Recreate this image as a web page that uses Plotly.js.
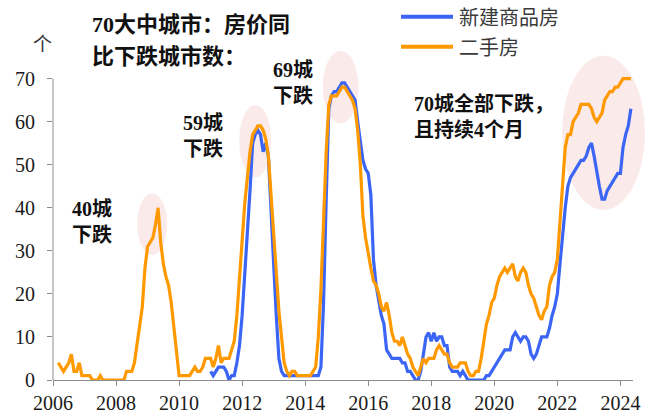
<!DOCTYPE html>
<html>
<head>
<meta charset="utf-8">
<script src="https://cdn.plot.ly/plotly-3.0.1.min.js"></script>
<style>
  html, body { margin: 0; padding: 0; background: #ffffff; }
  #chart { width: 659px; height: 420px; }
</style>
</head>
<body>
<div id="chart"></div>
<script>
// 70大中城市：房价同比下跌城市数（月度）
const seriesNames = ['新建商品房', '二手房'];

// 新建商品房：2011年1月起
const newHomeStart = [2011, 1];
const newHomeDown = [
  2, 1, 2, 3, 3, 3, 2, 0, 1, 1, 4, 8,            // 2011
  15, 24, 34, 44, 55, 57, 58, 57, 53, 55, 52, 41, // 2012
  27, 15, 5, 2, 1, 1, 1, 1, 1, 1, 1, 1,          // 2013
  1, 1, 1, 1, 1, 1, 3, 18, 42, 63, 66, 67,        // 2014
  67, 68, 69, 69, 68, 67, 66, 65, 60, 55, 51, 49, // 2015
  48, 43, 28, 22, 18, 15, 13, 7, 6, 5, 5, 5,      // 2016
  5, 4, 4, 2, 2, 1, 0, 0, 2, 6, 10, 11,           // 2017
  9, 11, 9, 10, 10, 8, 8, 3, 2, 2, 2, 1,          // 2018
  2, 1, 0, 0, 0, 0, 0, 0, 0, 1, 1, 2,             // 2019
  3, 4, 5, 6, 7, 7, 7, 10, 11, 10, 9, 10,         // 2020
  10, 9, 6, 5, 6, 8, 10, 10, 10, 12, 15, 17,      // 2021
  20, 27, 34, 40, 45, 47, 48, 49, 50, 51, 51, 52, // 2022
  54, 55, 52, 48, 45, 42, 42, 44, 45, 46, 47, 48, // 2023
  48, 54, 57, 59, 63                              // 2024
];

// 二手房：2006年3月起
const resaleStart = [2006, 3];
const resaleDown = [
  4, 3, 2, 3, 4, 6, 2, 2, 4, 1,                   // 2006
  1, 1, 1, 0, 0, 0, 1, 0, 0, 0, 0, 0,             // 2007
  0, 0, 0, 0, 2, 2, 2, 4, 8, 12, 17, 26,          // 2008
  31, 32, 33, 36, 40, 32, 27, 24, 22, 18, 12, 6,  // 2009
  1, 1, 1, 1, 1, 2, 3, 2, 2, 3, 5, 5,             // 2010
  5, 3, 5, 8, 4, 5, 5, 5, 7, 9, 15, 24,           // 2011
  32, 41, 47, 53, 57, 58, 59, 59, 58, 56, 52, 43, // 2012
  35, 25, 16, 9, 4, 2, 1, 2, 2, 1, 1, 1,          // 2013
  1, 1, 1, 2, 3, 10, 21, 37, 53, 64, 66, 66,      // 2014
  66, 67, 68, 68, 67, 66, 65, 63, 58, 50, 38, 33, // 2015
  29, 26, 23, 22, 20, 17, 16, 18, 15, 11, 9, 9,   // 2016
  8, 10, 8, 6, 5, 3, 2, 1, 3, 5, 4, 5,            // 2017
  5, 5, 7, 8, 7, 6, 6, 4, 3, 3, 3, 4,             // 2018
  4, 4, 2, 1, 1, 2, 2, 5, 9, 13, 15, 18,          // 2019
  19, 22, 24, 25, 26, 25, 26, 27, 24, 23, 25, 26, // 2020
  25, 22, 20, 19, 17, 15, 14, 16, 17, 22, 24, 25, // 2021
  28, 37, 47, 54, 57, 57, 60, 61, 62, 64, 64, 64, // 2022
  64, 63, 61, 60, 61, 62, 65, 66, 67, 67, 68, 68, // 2023
  69, 70, 70, 70, 70                              // 2024
];

const yearTicks = [2006, 2008, 2010, 2012, 2014, 2016, 2018, 2020, 2022, 2024];
const valueTicks = [0, 10, 20, 30, 40, 50, 60, 70];
const unitLabel = '个';
const titleLines = ['70大中城市：房价同', '比下跌城市数：'];
const peakNotes = [['40城', '下跌'], ['59城', '下跌'], ['69城', '下跌'], ['70城全部下跌，', '且持续4个月']];

const colors = { newHome: '#3b65f4', resale: '#ff9900' };

// month index -> decimal year
function monthAxis(start, n) {
  const out = [];
  for (let i = 0; i < n; i++) out.push(start[0] + (start[1] - 1 + i) / 12);
  return out;
}

const W = 659, H = 420;
const M = { l: 53, r: 26, t: 70, b: 40 };
const xRange = [2006, 2024.4];
const yRange = [0, 72];

// figure pixel -> paper coordinates
const figX = px => (px - M.l) / (W - M.l - M.r);
const figY = py => (H - M.b - py) / (H - M.t - M.b);
// data -> paper coordinates
const dataX = x => (x - xRange[0]) / (xRange[1] - xRange[0]);
const dataY = y => (y - yRange[0]) / (yRange[1] - yRange[0]);

const traces = [
  {
    x: monthAxis(newHomeStart, newHomeDown.length), y: newHomeDown,
    name: seriesNames[0], type: 'scatter', mode: 'lines',
    line: { color: colors.newHome, width: 3.2 }
  },
  {
    x: monthAxis(resaleStart, resaleDown.length), y: resaleDown,
    name: seriesNames[1], type: 'scatter', mode: 'lines',
    line: { color: colors.resale, width: 3.2 }
  }
];

// pink highlight ellipses around the peaks (year/value units)
const highlights = [
  [2008.67, 2009.62, 29.0, 43.4],
  [2011.91, 2012.92, 47.1, 63.9],
  [2014.56, 2015.69, 59.6, 76.5],
  [2022.15, 2024.78, 39.5, 75.3]
];

const shapes = highlights.map(h => ({
  type: 'circle', xref: 'paper', yref: 'paper', layer: 'below',
  x0: dataX(h[0]), x1: dataX(h[1]), y0: dataY(h[2]), y1: dataY(h[3]),
  fillcolor: 'rgba(248, 214, 214, 0.5)', line: { width: 0 }
}));

// y axis spine from 0 to 70
shapes.push({
  type: 'line', xref: 'paper', yref: 'y', x0: 0, x1: 0, y0: 0, y1: 70,
  line: { color: '#8c8c8c', width: 1 }
});

// legend
const legendRows = [
  { name: seriesNames[0], color: colors.newHome, py: 16.7 },
  { name: seriesNames[1], color: colors.resale, py: 46.7 }
];
legendRows.forEach(r => {
  shapes.push({
    type: 'line', xref: 'paper', yref: 'paper',
    x0: figX(401), x1: figX(453), y0: figY(r.py), y1: figY(r.py),
    line: { color: r.color, width: 4 }
  });
});

const serifCJK = 'Liberation Serif, Noto Sans CJK SC';
const boldFont = { family: serifCJK, size: 20, color: '#111111', weight: 'bold' };

const annotations = [];
legendRows.forEach(r => {
  annotations.push({
    xref: 'paper', yref: 'paper', x: figX(457), y: figY(r.py),
    xanchor: 'left', yanchor: 'middle', showarrow: false,
    text: r.name,
    font: { family: 'Noto Sans CJK SC', size: 20, color: '#3a3a3a' }
  });
});

// notes beside the peaks
const notePos = [[70, 222], [181, 136], [271, 83], [412, 116]];
peakNotes.forEach((lines, i) => {
  annotations.push({
    xref: 'paper', yref: 'paper', x: figX(notePos[i][0]), y: figY(notePos[i][1]),
    xanchor: 'left', yanchor: 'middle', align: 'left', showarrow: false,
    text: lines.join('<br>'),
    font: boldFont
  });
});

// two-line chart heading
titleLines.forEach((s, i) => {
  annotations.push({
    xref: 'paper', yref: 'paper', x: figX(90), y: figY(i === 0 ? 25 : 56),
    xanchor: 'left', yanchor: 'middle', showarrow: false,
    text: s,
    font: { family: serifCJK, size: 22, color: '#111111', weight: 'bold' }
  });
});

// unit label above the y axis
annotations.push({
  xref: 'paper', yref: 'paper', x: figX(42), y: figY(42),
  xanchor: 'center', yanchor: 'middle', showarrow: false,
  text: unitLabel,
  font: { family: 'Noto Sans CJK SC', size: 19, color: '#333333' }
});

const tickFont = { family: 'Liberation Serif', size: 20, color: '#1a1a1a' };

const layout = {
  width: W, height: H,
  margin: M,
  paper_bgcolor: '#ffffff', plot_bgcolor: '#ffffff',
  showlegend: false,
  xaxis: {
    range: xRange, tickmode: 'array', tickvals: yearTicks, ticktext: yearTicks.map(String),
    ticks: 'outside', ticklen: 5, tickcolor: '#8c8c8c', tickwidth: 1,
    showline: true, linecolor: '#8c8c8c', linewidth: 1,
    showgrid: false, zeroline: false, tickfont: tickFont
  },
  yaxis: {
    range: yRange, tickmode: 'array', tickvals: valueTicks, ticktext: valueTicks.map(String),
    ticks: 'outside', ticklen: 5, tickcolor: '#8c8c8c', tickwidth: 1,
    showline: false, showgrid: false, zeroline: false, tickfont: tickFont,
    ticklabelstandoff: 8
  },
  shapes: shapes,
  annotations: annotations
};

Plotly.newPlot('chart', traces, layout, { displayModeBar: false, staticPlot: true });
</script>
</body>
</html>
